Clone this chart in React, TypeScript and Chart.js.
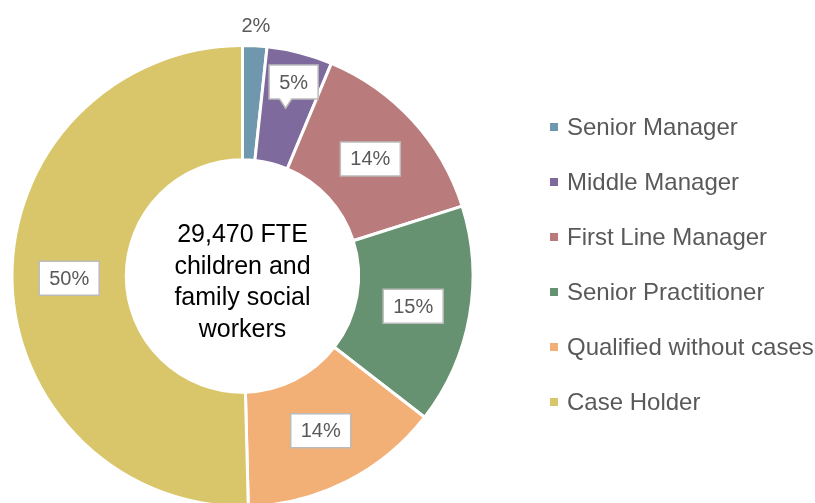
import React, { useEffect, useRef } from "react";
import { Chart, registerables } from "chart.js";

Chart.register(...registerables);

const categories = [
  "Senior Manager",
  "Middle Manager",
  "First Line Manager",
  "Senior Practitioner",
  "Qualified without cases",
  "Case Holder",
];
const shares = [1.7, 4.6, 13.8, 15.4, 14.1, 50.4];
const colors = ["#6F97AD", "#7F6A9D", "#B97B7B", "#669271", "#F2B076", "#D9C66A"];
const valueLabels = shares.map((v) => `${Math.round(v)}%`);
const centerLines = ["29,470 FTE", "children and", "family social", "workers"];

const FONT = '"Liberation Sans", Arial, sans-serif';
const total = shares.reduce((a, b) => a + b, 0);

const sliceLabelPlugin = {
  id: "sliceLabels",
  afterDatasetsDraw(chart: any) {
    const ctx = chart.ctx as CanvasRenderingContext2D;
    const meta = chart.getDatasetMeta(0);
    ctx.save();
    ctx.font = `20px ${FONT}`;
    ctx.textAlign = "center";
    ctx.textBaseline = "middle";
    meta.data.forEach((arc: any, i: number) => {
      const { x, y, startAngle, endAngle, innerRadius, outerRadius } = arc;
      const mid = (startAngle + endAngle) / 2;
      const text = valueLabels[i];
      const pct = shares[i] / total;
      if (pct < 0.03) {
        const r = outerRadius + 20;
        ctx.fillStyle = "#595959";
        ctx.fillText(text, x + r * Math.cos(mid), y + r * Math.sin(mid) + 1);
        return;
      }
      const rr = (innerRadius + outerRadius) / 2;
      const px = x + rr * Math.cos(mid);
      const py = y + rr * Math.sin(mid);
      const tw = ctx.measureText(text).width;
      const bw = Math.round(tw + 20);
      const bh = 34;
      let cx = px;
      let cy = py;
      ctx.beginPath();
      if (pct < 0.06) {
        cx = px + 8;
        cy = py - 9 - bh / 2;
        const l = cx - bw / 2, r = cx + bw / 2, t = cy - bh / 2, b = cy + bh / 2;
        ctx.moveTo(l, t);
        ctx.lineTo(r, t);
        ctx.lineTo(r, b);
        ctx.lineTo(px + 6, b);
        ctx.lineTo(px, py);
        ctx.lineTo(px - 6, b);
        ctx.lineTo(l, b);
        ctx.closePath();
      } else {
        ctx.rect(cx - bw / 2, cy - bh / 2, bw, bh);
      }
      ctx.fillStyle = "#ffffff";
      ctx.fill();
      ctx.lineWidth = 1.5;
      ctx.strokeStyle = "#BBBBBB";
      ctx.stroke();
      ctx.fillStyle = "#595959";
      ctx.fillText(text, cx, cy + 1);
    });

    // centre text
    const arc0 = meta.data[0];
    ctx.fillStyle = "#000000";
    ctx.font = `25px ${FONT}`;
    const lh = 31.7;
    centerLines.forEach((line, i) => {
      ctx.fillText(line, arc0.x, arc0.y + 6.5 + (i - (centerLines.length - 1) / 2) * lh);
    });
    ctx.restore();
  },
  afterDraw(chart: any) {
    const ctx = chart.ctx as CanvasRenderingContext2D;
    ctx.save();
    ctx.font = `24px ${FONT}`;
    ctx.textAlign = "left";
    ctx.textBaseline = "middle";
    const labels = chart.data.labels as string[];
    const bg = chart.data.datasets[0].backgroundColor as string[];
    labels.forEach((lab, i) => {
      const yy = 127 + i * 55;
      ctx.fillStyle = bg[i];
      ctx.fillRect(550, yy - 4, 8, 8);
      ctx.fillStyle = "#595959";
      ctx.fillText(lab, 567, yy + 1);
    });
    ctx.restore();
  },
};

export default function App() {
  const ref = useRef<HTMLCanvasElement | null>(null);
  useEffect(() => {
    if (!ref.current) return;
    const chart = new Chart(ref.current, {
      type: "doughnut",
      data: {
        labels: categories,
        datasets: [
          {
            data: shares,
            backgroundColor: colors,
            borderColor: "#ffffff",
            borderWidth: 3,
            hoverOffset: 0,
          },
        ],
      },
      options: {
        responsive: false,
        animation: false,
        radius: 230.5,
        cutout: "50.4%",
        layout: { padding: { left: 0, right: 330, top: 49, bottom: 0 } },
        plugins: {
          legend: { display: false },
          tooltip: { enabled: false },
        },
        events: [],
      } as any,
      plugins: [sliceLabelPlugin],
    });
    return () => chart.destroy();
  }, []);
  return (
    <div
      style={{
        position: "fixed",
        left: 0,
        top: 0,
        width: 815,
        height: 503,
        overflow: "hidden",
        background: "#ffffff",
      }}
    >
      <canvas ref={ref} width={815} height={503} style={{ display: "block" }} />
    </div>
  );
}
